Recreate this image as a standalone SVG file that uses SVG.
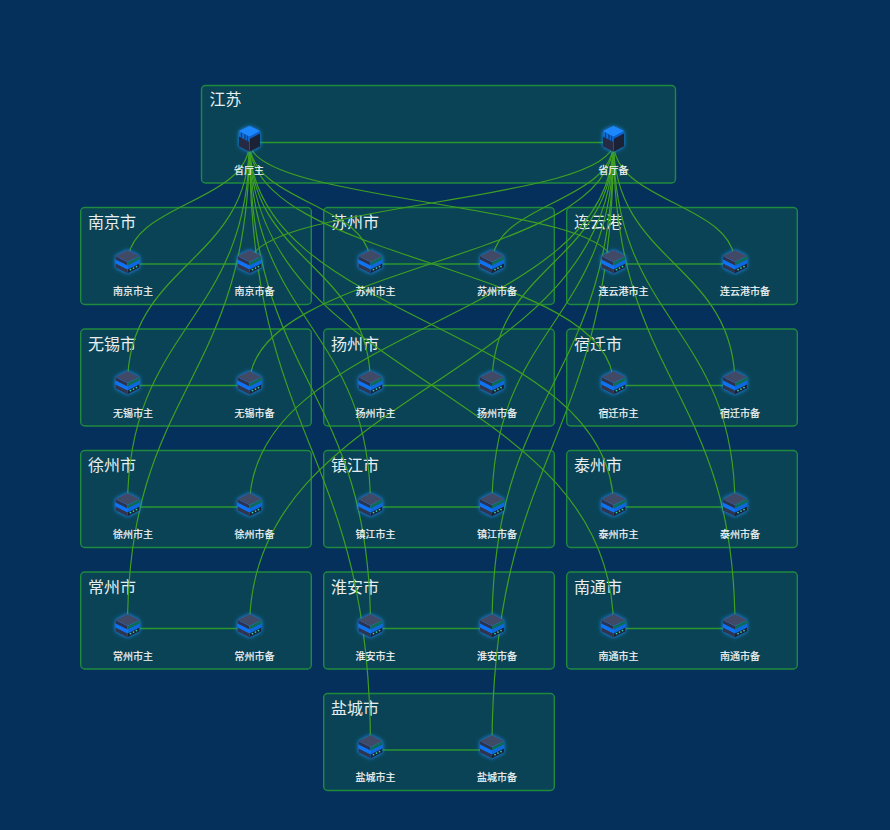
<svg xmlns="http://www.w3.org/2000/svg" xmlns:xlink="http://www.w3.org/1999/xlink" width="890" height="830" viewBox="0 0 890 830">
<style>
.box{fill:#0a4355;stroke:#1f8a3f;stroke-width:1.4}
.title{font:16px "Noto Sans CJK SC","Liberation Sans",sans-serif;fill:#e6eef0}
.lbl{font:10px "Noto Sans CJK SC","Liberation Sans",sans-serif;fill:#f2f6f6;stroke:#f2f6f6;stroke-width:.2}
.link{fill:none;stroke:#3f9f22;stroke-width:1.2}
.h{fill:none;stroke:#2b9630;stroke-width:1.4}
</style>
<defs>
<filter id="glow" x="-50%" y="-50%" width="200%" height="200%"><feDropShadow dx="0" dy="0" stdDeviation="2" flood-color="#1f8fff" flood-opacity="1"/></filter>
<g id="server" filter="url(#glow)">
<polygon points="-12,-1 0,5 0,9.5 -12,3.5" fill="#2e3550"/>
<polygon points="12,-1 0,5 0,9.5 12,3.5" fill="#1b2238"/>
<polygon points="-12,-5 0,1 0,5.5 -12,-0.5" fill="#1173f2"/>
<polygon points="12,-5 0,1 0,5.5 12,-0.5" fill="#0c68e0"/>
<polygon points="-12,-8 0,-2 0,1.5 -12,-4.5" fill="#2b3350"/>
<polygon points="12,-8 0,-2 0,1.5 12,-4.5" fill="#0f6a55"/>
<polygon points="0,-14 12,-8 0,-2 -12,-8" fill="#3f4a66"/>
<circle cx="3" cy="5.6" r=".9" fill="#2fd6a0"/><circle cx="6" cy="4.1" r=".9" fill="#2fd6a0"/><circle cx="9" cy="2.6" r=".9" fill="#2fd6a0"/>
</g>
<g id="cube" filter="url(#glow)">
<polygon points="-10.5,-11 0,-5.5 0,10 -10.5,4.5" fill="#262c42"/>
<polygon points="10.5,-11 0,-5.5 0,10 10.5,4.5" fill="#1c2136"/>
<polygon points="-10.5,-11 0,-5.5 0,0 -10.5,-5.5" fill="#0f6fd8"/>
<path d="M-8,-9.6V-4.2M-4.5,-7.8V-2.4M-2,-6.5V-1" stroke="#123a78" stroke-width="1.2" fill="none"/>
<polygon points="10.5,-11 0,-5.5 0,-3 10.5,-8.5" fill="#1060d0"/>
<polygon points="0,-16 10.5,-11 0,-5.5 -10.5,-11" fill="#1e88ff"/>
</g>
</defs>
<rect width="890" height="830" fill="#04305b"/>
<g id="groups">
<g id="group-js"><rect class="box" x="201.5" y="85.5" width="474" height="97.5" rx="4"/><text class="title" x="209.5" y="105">江苏</text></g>
<g id="group-nanjing"><rect class="box" x="80.7" y="207.5" width="230.6" height="97" rx="4"/><text class="title" x="88" y="228">南京市</text></g>
<g id="group-suzhou"><rect class="box" x="323.7" y="207.5" width="230.6" height="97" rx="4"/><text class="title" x="331" y="228">苏州市</text></g>
<g id="group-lianyungang"><rect class="box" x="566.7" y="207.5" width="230.6" height="97" rx="4"/><text class="title" x="574" y="228">连云港</text></g>
<g id="group-wuxi"><rect class="box" x="80.7" y="329" width="230.6" height="97" rx="4"/><text class="title" x="88" y="349.5">无锡市</text></g>
<g id="group-yangzhou"><rect class="box" x="323.7" y="329" width="230.6" height="97" rx="4"/><text class="title" x="331" y="349.5">扬州市</text></g>
<g id="group-suqian"><rect class="box" x="566.7" y="329" width="230.6" height="97" rx="4"/><text class="title" x="574" y="349.5">宿迁市</text></g>
<g id="group-xuzhou"><rect class="box" x="80.7" y="450.5" width="230.6" height="97" rx="4"/><text class="title" x="88" y="471">徐州市</text></g>
<g id="group-zhenjiang"><rect class="box" x="323.7" y="450.5" width="230.6" height="97" rx="4"/><text class="title" x="331" y="471">镇江市</text></g>
<g id="group-taizhou"><rect class="box" x="566.7" y="450.5" width="230.6" height="97" rx="4"/><text class="title" x="574" y="471">泰州市</text></g>
<g id="group-changzhou"><rect class="box" x="80.7" y="572" width="230.6" height="97" rx="4"/><text class="title" x="88" y="592.5">常州市</text></g>
<g id="group-huaian"><rect class="box" x="323.7" y="572" width="230.6" height="97" rx="4"/><text class="title" x="331" y="592.5">淮安市</text></g>
<g id="group-nantong"><rect class="box" x="566.7" y="572" width="230.6" height="97" rx="4"/><text class="title" x="574" y="592.5">南通市</text></g>
<g id="group-yancheng"><rect class="box" x="323.7" y="693.5" width="230.6" height="97" rx="4"/><text class="title" x="331" y="714">盐城市</text></g>
</g>
<g id="connectors">
<path class="h" d="M249.5 142.5H613.5"/>
<path class="h" d="M127.5 264H249.5M370.5 264H492M613.5 264H735"/>
<path class="h" d="M127.5 385.5H249.5M370.5 385.5H492M613.5 385.5H735"/>
<path class="h" d="M127.5 507H249.5M370.5 507H492M613.5 507H735"/>
<path class="h" d="M127.5 628.5H249.5M370.5 628.5H492M613.5 628.5H735"/>
<path class="h" d="M370.5 750H492"/>
<path class="link" d="M249.5 142C249.5 203 127.5 203 127.5 264"/>
<path class="link" d="M249.5 142C249.5 203 370.5 203 370.5 264"/>
<path class="link" d="M249.5 142C249.5 203 613.5 203 613.5 264"/>
<path class="link" d="M249.5 142C249.5 263.5 127.5 263.5 127.5 385"/>
<path class="link" d="M249.5 142C249.5 263.5 370.5 263.5 370.5 385"/>
<path class="link" d="M249.5 142C249.5 263.5 613.5 263.5 613.5 385"/>
<path class="link" d="M249.5 142C249.5 324.5 127.5 324.5 127.5 507"/>
<path class="link" d="M249.5 142C249.5 324.5 370.5 324.5 370.5 507"/>
<path class="link" d="M249.5 142C249.5 324.5 613.5 324.5 613.5 507"/>
<path class="link" d="M249.5 142C249.5 385 127.5 385 127.5 628"/>
<path class="link" d="M249.5 142C249.5 385 370.5 385 370.5 628"/>
<path class="link" d="M249.5 142C249.5 385 613.5 385 613.5 628"/>
<path class="link" d="M249.5 142C249.5 445.5 370.5 445.5 370.5 749"/>
<path class="link" d="M613.5 142C613.5 203 249.5 203 249.5 264"/>
<path class="link" d="M613.5 142C613.5 203 492 203 492 264"/>
<path class="link" d="M613.5 142C613.5 203 735 203 735 264"/>
<path class="link" d="M613.5 142C613.5 263.5 249.5 263.5 249.5 385"/>
<path class="link" d="M613.5 142C613.5 263.5 492 263.5 492 385"/>
<path class="link" d="M613.5 142C613.5 263.5 735 263.5 735 385"/>
<path class="link" d="M613.5 142C613.5 324.5 249.5 324.5 249.5 507"/>
<path class="link" d="M613.5 142C613.5 324.5 492 324.5 492 507"/>
<path class="link" d="M613.5 142C613.5 324.5 735 324.5 735 507"/>
<path class="link" d="M613.5 142C613.5 385 249.5 385 249.5 628"/>
<path class="link" d="M613.5 142C613.5 385 492 385 492 628"/>
<path class="link" d="M613.5 142C613.5 385 735 385 735 628"/>
<path class="link" d="M613.5 142C613.5 445.5 492 445.5 492 749"/>
</g>
<g id="nodes">
<g id="province-main"><use href="#cube" x="249.5" y="142"/><text class="lbl" x="234" y="174">省厅主</text></g>
<g id="province-backup"><use href="#cube" x="613.5" y="142"/><text class="lbl" x="598.5" y="174">省厅备</text></g>
<g id="nanjing-main"><use href="#server" x="127.5" y="264"/><text class="lbl" x="113" y="295">南京市主</text></g>
<g id="nanjing-backup"><use href="#server" x="249.5" y="264"/><text class="lbl" x="234.5" y="295">南京市备</text></g>
<g id="suzhou-main"><use href="#server" x="370.5" y="264"/><text class="lbl" x="355.5" y="295">苏州市主</text></g>
<g id="suzhou-backup"><use href="#server" x="492" y="264"/><text class="lbl" x="477" y="295">苏州市备</text></g>
<g id="lianyungang-main"><use href="#server" x="613.5" y="264"/><text class="lbl" x="598.5" y="295">连云港市主</text></g>
<g id="lianyungang-backup"><use href="#server" x="735" y="264"/><text class="lbl" x="720" y="295">连云港市备</text></g>
<g id="wuxi-main"><use href="#server" x="127.5" y="385"/><text class="lbl" x="113" y="417">无锡市主</text></g>
<g id="wuxi-backup"><use href="#server" x="249.5" y="385"/><text class="lbl" x="234.5" y="417">无锡市备</text></g>
<g id="yangzhou-main"><use href="#server" x="370.5" y="385"/><text class="lbl" x="355.5" y="417">扬州市主</text></g>
<g id="yangzhou-backup"><use href="#server" x="492" y="385"/><text class="lbl" x="477" y="417">扬州市备</text></g>
<g id="suqian-main"><use href="#server" x="613.5" y="385"/><text class="lbl" x="598.5" y="417">宿迁市主</text></g>
<g id="suqian-backup"><use href="#server" x="735" y="385"/><text class="lbl" x="720" y="417">宿迁市备</text></g>
<g id="xuzhou-main"><use href="#server" x="127.5" y="507"/><text class="lbl" x="113" y="538">徐州市主</text></g>
<g id="xuzhou-backup"><use href="#server" x="249.5" y="507"/><text class="lbl" x="234.5" y="538">徐州市备</text></g>
<g id="zhenjiang-main"><use href="#server" x="370.5" y="507"/><text class="lbl" x="355.5" y="538">镇江市主</text></g>
<g id="zhenjiang-backup"><use href="#server" x="492" y="507"/><text class="lbl" x="477" y="538">镇江市备</text></g>
<g id="taizhou-main"><use href="#server" x="613.5" y="507"/><text class="lbl" x="598.5" y="538">泰州市主</text></g>
<g id="taizhou-backup"><use href="#server" x="735" y="507"/><text class="lbl" x="720" y="538">泰州市备</text></g>
<g id="changzhou-main"><use href="#server" x="127.5" y="628"/><text class="lbl" x="113" y="660">常州市主</text></g>
<g id="changzhou-backup"><use href="#server" x="249.5" y="628"/><text class="lbl" x="234.5" y="660">常州市备</text></g>
<g id="huaian-main"><use href="#server" x="370.5" y="628"/><text class="lbl" x="355.5" y="660">淮安市主</text></g>
<g id="huaian-backup"><use href="#server" x="492" y="628"/><text class="lbl" x="477" y="660">淮安市备</text></g>
<g id="nantong-main"><use href="#server" x="613.5" y="628"/><text class="lbl" x="598.5" y="660">南通市主</text></g>
<g id="nantong-backup"><use href="#server" x="735" y="628"/><text class="lbl" x="720" y="660">南通市备</text></g>
<g id="yancheng-main"><use href="#server" x="370.5" y="749"/><text class="lbl" x="355.5" y="781">盐城市主</text></g>
<g id="yancheng-backup"><use href="#server" x="492" y="749"/><text class="lbl" x="477" y="781">盐城市备</text></g>
</g>
</svg>
